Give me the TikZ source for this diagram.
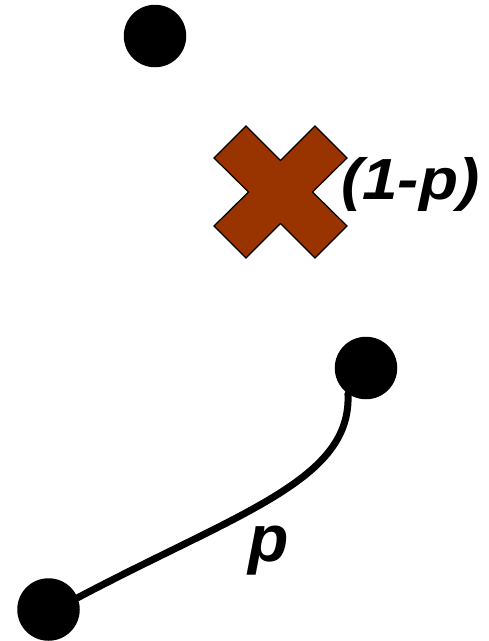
\documentclass[tikz,border=0pt]{standalone}
\usepackage{fontspec}
\usepackage{graphicx}
\setmainfont{Liberation Sans}
\definecolor{crossbrown}{HTML}{993300}
\begin{document}
\begin{tikzpicture}[x=1pt,y=-1pt,
  dot/.style={circle,fill=black,inner sep=0pt,minimum size=62.5pt},
  lbl/.style={inner sep=0pt,font=\bfseries\itshape}]
\useasboundingbox (0,0) rectangle (489,641);
% dots
\node[dot] (top) at (155,36) {};
\node[dot] (mid) at (366,368) {};
\node[dot] (bot) at (48.5,609.5) {};
% cross
\filldraw[fill=crossbrown,draw=black,line width=1.2pt,line join=miter]
  (214,158) -- (246,126) -- (280.5,160.5) -- (315,126) -- (347,158)
  -- (312.5,192) -- (347,226) -- (315,258) -- (280.5,223.5) -- (246,258)
  -- (214,226) -- (248.5,192) -- cycle;
\node[lbl,anchor=base west,font=\bfseries\itshape\fontsize{58}{60}\selectfont] (q) at (341,199.3) {\scalebox{1.1}[1]{(1-p)}};
% connector
\draw[line width=7pt,line cap=round] (bot.22) .. controls (240,512) and (352,480) .. (mid.235);
\node[lbl,anchor=base,font=\bfseries\itshape\fontsize{66}{70}\selectfont] (p) at (269,561.7) {p};
\end{tikzpicture}
\end{document}
